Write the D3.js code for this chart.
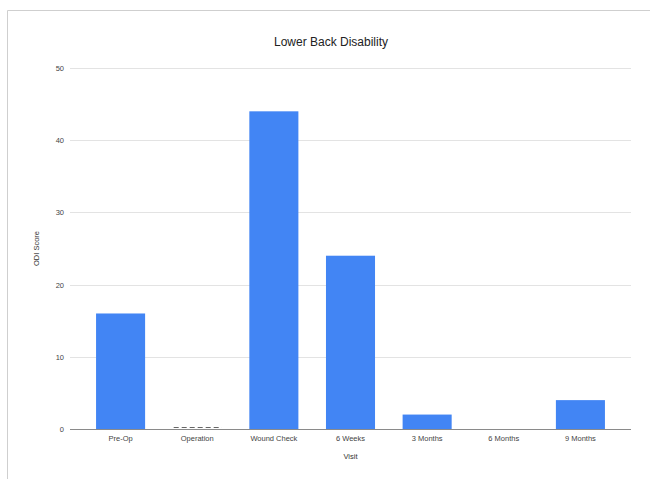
<!DOCTYPE html>
<html>
<head>
<meta charset="utf-8">
<script src="https://cdn.jsdelivr.net/npm/d3@7"></script>
<style>
  html, body { margin: 0; padding: 0; background: #fff; }
  svg { display: block; font-family: Arial, "Liberation Sans", sans-serif; }
</style>
</head>
<body>
<svg id="chart" width="650" height="479"></svg>
<script>
// Visits along the x axis
const visits = ["Pre-Op", "Operation", "Wound Check", "6 Weeks", "3 Months", "6 Months", "9 Months"];
// ODI score per visit (null = not recorded)
const odiScores = [16, 0, 44, 24, 2, null, 4];
// Value axis ticks
const yTicks = [0, 10, 20, 30, 40, 50];

const chartTitle = "Lower Back Disability";
const xTitle = "Visit";
const yTitle = "ODI Score";

const svg = d3.select("#chart");
const W = 650, H = 479;
const plot = { left: 70, right: 631, top: 68, bottom: 429 };

// frame around the chart area
svg.append("path")
  .attr("d", `M7.5,${H} V10.5 H${W}`)
  .attr("fill", "none")
  .attr("stroke", "#cfcfcf")
  .attr("stroke-width", 1);

const x = d3.scaleBand()
  .domain(visits)
  .range([plot.left, plot.right])
  .paddingInner(0.36)
  .paddingOuter(0.34);

const y = d3.scaleLinear()
  .domain([0, 50])
  .range([plot.bottom, plot.top]);

// horizontal gridlines and value labels
const yAxis = d3.axisLeft(y)
  .tickValues(yTicks)
  .tickSize(-(plot.right - plot.left))
  .tickPadding(6)
  .tickFormat(d3.format("d"));

const gy = svg.append("g")
  .attr("transform", `translate(${plot.left},0)`)
  .call(yAxis);
gy.select(".domain").remove();
gy.selectAll(".tick line")
  .attr("stroke", "#e3e3e3")
  .attr("stroke-width", 1)
  .attr("shape-rendering", "crispEdges");
gy.selectAll(".tick text")
  .attr("fill", "#444")
  .attr("font-size", "7.5px")
  .attr("dy", "0.32em");

// bars
const data = visits.map((v, i) => ({ visit: v, value: odiScores[i] }));

svg.append("g").selectAll("rect")
  .data(data.filter(d => d.value !== null && d.value > 0))
  .join("rect")
  .attr("x", d => x(d.visit))
  .attr("y", d => y(d.value))
  .attr("width", x.bandwidth())
  .attr("height", d => y(0) - y(d.value))
  .attr("fill", "#4285f4");

// zero-valued visits get a dashed marker on the baseline
svg.append("g").selectAll("line")
  .data(data.filter(d => d.value === 0))
  .join("line")
  .attr("x1", d => x(d.visit) + 1)
  .attr("x2", d => x(d.visit) + x.bandwidth())
  .attr("y1", y(0) - 1.5)
  .attr("y2", y(0) - 1.5)
  .attr("stroke", "#666")
  .attr("stroke-width", 1)
  .attr("stroke-dasharray", "5,3");

// baseline and category labels
const xAxis = d3.axisBottom(x).tickSize(0).tickPadding(7);
const gx = svg.append("g")
  .attr("transform", `translate(0,${plot.bottom})`)
  .call(xAxis);
gx.select(".domain")
  .attr("d", `M${plot.left},0.5H${plot.right}`)
  .attr("stroke", "#8a8a8a")
  .attr("stroke-width", 1);
gx.selectAll(".tick text")
  .attr("fill", "#444")
  .attr("font-size", "7.5px");

// titles
svg.append("text")
  .attr("x", 331)
  .attr("y", 46)
  .attr("text-anchor", "middle")
  .attr("font-size", "12px")
  .attr("fill", "#222")
  .text(chartTitle);

svg.append("text")
  .attr("x", (plot.left + plot.right) / 2)
  .attr("y", 459)
  .attr("text-anchor", "middle")
  .attr("font-size", "7.5px")
  .attr("fill", "#333")
  .text(xTitle);

svg.append("text")
  .attr("transform", `translate(39,${(plot.top + plot.bottom) / 2}) rotate(-90)`)
  .attr("text-anchor", "middle")
  .attr("font-size", "7.5px")
  .attr("fill", "#333")
  .text(yTitle);
</script>
</body>
</html>
